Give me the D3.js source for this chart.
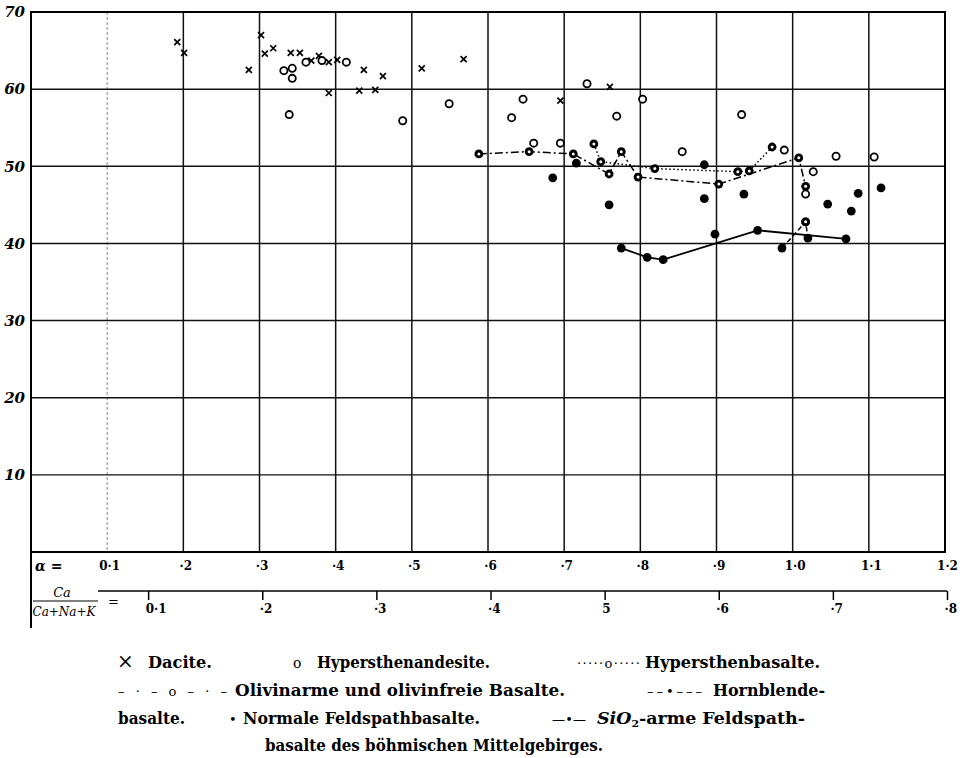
<!DOCTYPE html>
<html><head><meta charset="utf-8">
<script src="https://cdn.jsdelivr.net/npm/d3@7/dist/d3.min.js"></script>
<style>body{margin:0;background:#fff} svg{display:block}</style>
</head><body><svg id="c" width="964" height="758"></svg>
<script>
// ---- tick values and labels ----
const alphaTicks = [0.1,0.2,0.3,0.4,0.5,0.6,0.7,0.8,0.9,1.0,1.1,1.2];
const alphaLabels = ["0·1","·2","·3","·4","·5","·6","·7","·8","·9","1·0","1·1","1·2"];
const ratioTicks = [0.1,0.2,0.3,0.4,0.5,0.6,0.7,0.8];
const ratioLabels = ["0·1","·2","·3","·4","5","·6","·7","·8"];
const siTicks = [10,20,30,40,50,60,70];
const siLabels = ["10","20","30","40","50","60","70"];

// ---- series: [alpha, SiO2] ----
const dacite = [[0.192,66.1],[0.201,64.7],[0.286,62.5],[0.302,67.0],[0.307,64.6],[0.318,65.3],[0.341,64.7],[0.353,64.7],[0.368,63.7],[0.378,64.3],[0.391,63.5],[0.402,63.8],[0.391,59.5],[0.431,59.8],[0.437,62.5],[0.452,59.9],[0.462,61.7],[0.513,62.7],[0.568,63.9],[0.695,58.5],[0.760,60.3]];
const hyperAndesite = [[0.332,62.4],[0.343,62.7],[0.343,61.4],[0.339,56.7],[0.361,63.5],[0.382,63.7],[0.414,63.5],[0.488,55.9],[0.549,58.1],[0.631,56.3],[0.646,58.7],[0.660,53.0],[0.695,53.0],[0.730,60.7],[0.769,56.5],[0.803,58.7],[0.855,51.9],[0.933,56.7],[0.989,52.1],[1.027,49.3],[1.057,51.3],[1.107,51.2],[1.017,46.4]];
const hyperBasalt = [[0.739,52.9],[0.748,50.6],[0.819,49.7],[0.928,49.3],[0.943,49.4],[0.973,52.5]];
const olivinBasalt = [[0.588,51.6],[0.654,51.9],[0.712,51.6],[0.759,49.0],[0.775,51.9],[0.797,48.6],[0.903,47.7],[1.008,51.1],[1.017,47.4]];
const hornblendeBasalt = [[0.986,39.4],[1.017,42.8],[1.020,40.7]];
const feldspathBasalt = [[0.685,48.5],[0.716,50.4],[0.759,45.0],[0.884,50.2],[0.884,45.8],[0.898,41.2],[0.936,46.4],[1.046,45.1],[1.077,44.2],[1.086,46.5],[1.116,47.2]];
const sio2ArmBasalt = [[0.775,39.4],[0.809,38.2],[0.830,37.9],[0.954,41.7],[1.070,40.6]];

// ---- legend text: [symbol, label] per row ----
const legendRows = [
  [["×","Dacite."],["o","Hypersthenandesite."],["·····o·····","Hypersthenbasalte."]],
  [["– · – o – · –","Olivinarme und olivinfreie Basalte."],["– – • – – –","Hornblende-"]],
  [["","basalte."],["•","Normale Feldspathbasalte."],["—•—","SIO2"]],
  [["","basalte des böhmischen Mittelgebirges."]]
];

const svg = d3.select("#c");
const x = d3.scaleLinear().domain([0,1.2]).range([31,945]);
const xr = d3.scaleLinear().domain([0,0.8]).range([34,947]);
const y = d3.scaleLinear().domain([0,70]).range([552,12]);
const serif = "'DejaVu Serif','Liberation Serif',serif";

// grid
const g = svg.append("g");
g.selectAll("line.v").data(alphaTicks.filter(d=>d<1.15)).join("line")
  .attr("x1",d=>x(d)).attr("x2",d=>x(d)).attr("y1",y(70)).attr("y2",y(0))
  .attr("stroke",d=>d<0.15?"#888":"#111").attr("stroke-width",d=>d<0.15?1:1.5)
  .attr("stroke-dasharray",d=>d<0.15?"3,2":null);
g.selectAll("line.h").data(siTicks.filter(d=>d<70)).join("line")
  .attr("x1",x(0)).attr("x2",x(1.2)).attr("y1",d=>y(d)).attr("y2",d=>y(d))
  .attr("stroke","#111").attr("stroke-width",d=>d===10?1.1:1.5);
// frame
g.append("rect").attr("x",x(0)).attr("y",y(70)).attr("width",x(1.2)-x(0)).attr("height",y(0)-y(70))
  .attr("fill","none").attr("stroke","#000").attr("stroke-width",2);
g.append("line").attr("x1",x(0)).attr("x2",x(0)).attr("y1",y(0)).attr("y2",628).attr("stroke","#000").attr("stroke-width",2);

// y axis labels
const yAx = svg.append("g").attr("transform",`translate(${x(0)},0)`)
  .call(d3.axisLeft(y).tickValues(siTicks).tickSize(0).tickPadding(6).tickFormat((d,i)=>siLabels[i]));
yAx.select(".domain").remove();
yAx.selectAll("text").attr("font-family",serif).attr("font-style","italic").attr("font-weight","bold").attr("font-size",15).attr("fill","#000");

// alpha axis labels
const aAx = svg.append("g").attr("transform",`translate(0,${y(0)})`)
  .call(d3.axisBottom(x).tickValues(alphaTicks).tickSize(0).tickPadding(9).tickFormat((d,i)=>alphaLabels[i]));
aAx.select(".domain").remove();
aAx.selectAll("text").attr("font-family",serif).attr("font-weight","bold").attr("font-size",12).attr("dx",2).attr("fill","#000");
svg.append("text").attr("x",35).attr("y",571).attr("font-family",serif).attr("font-style","italic").attr("font-weight","bold").attr("font-size",14).text("α =");

// ratio axis
svg.append("line").attr("x1",98).attr("x2",xr(0.8)).attr("y1",591).attr("y2",591).attr("stroke","#000").attr("stroke-width",1.6);
const rAx = svg.append("g").attr("transform","translate(0,591)")
  .call(d3.axisBottom(xr).tickValues(ratioTicks).tickSize(9).tickPadding(4).tickFormat((d,i)=>ratioLabels[i]));
rAx.select(".domain").remove();
rAx.selectAll("line").attr("stroke","#000").attr("stroke-width",1.5);
rAx.selectAll("text").attr("font-family",serif).attr("font-weight","bold").attr("font-size",12).attr("text-anchor","start").attr("dx",-3).attr("fill","#000");
// fraction
svg.append("text").attr("x",62).attr("y",597).attr("text-anchor","middle").attr("font-family",serif).attr("font-style","italic").attr("font-size",13).text("Ca");
svg.append("line").attr("x1",33).attr("x2",98).attr("y1",601).attr("y2",601).attr("stroke","#000").attr("stroke-width",1.2);
svg.append("text").attr("x",64).attr("y",616).attr("text-anchor","middle").attr("font-family",serif).attr("font-style","italic").attr("font-size",12).text("Ca+Na+K");
svg.append("text").attr("x",108).attr("y",606).attr("font-family",serif).attr("font-size",13).text("=");

// lines
const line = d3.line().x(d=>x(d[0])).y(d=>y(d[1]));
const lg = svg.append("g").attr("fill","none").attr("stroke","#000").attr("stroke-width",1.5);
lg.append("path").attr("d",line(olivinBasalt)).attr("stroke-dasharray","8,3,2,3");
lg.append("path").attr("d",line(hyperBasalt)).attr("stroke-dasharray","1.5,2.5");
lg.append("path").attr("d",line(hornblendeBasalt)).attr("stroke-dasharray","5,3");
lg.append("path").attr("d",line(sio2ArmBasalt)).attr("stroke-width",1.8);

// markers
const mk = svg.append("g");
mk.selectAll("path.x").data(dacite).join("path")
  .attr("d",d=>{const cx=x(d[0]),cy=y(d[1]),s=3;return `M${cx-s},${cy-s}L${cx+s},${cy+s}M${cx-s},${cy+s}L${cx+s},${cy-s}`;})
  .attr("stroke","#000").attr("stroke-width",1.7);
mk.selectAll("circle.a").data(hyperAndesite).join("circle")
  .attr("cx",d=>x(d[0])).attr("cy",d=>y(d[1])).attr("r",3.6).attr("fill","#fff").attr("stroke","#000").attr("stroke-width",1.8);
mk.selectAll("circle.f").data(feldspathBasalt.concat(sio2ArmBasalt, hornblendeBasalt)).join("circle")
  .attr("cx",d=>x(d[0])).attr("cy",d=>y(d[1])).attr("r",4.4).attr("fill","#000");
const rings = olivinBasalt.concat(hyperBasalt, [hornblendeBasalt[1]]);
mk.selectAll("circle.r").data(rings).join("circle")
  .attr("cx",d=>x(d[0])).attr("cy",d=>y(d[1])).attr("r",4.4).attr("fill","#000");
mk.selectAll("circle.ri").data(rings).join("circle")
  .attr("cx",d=>x(d[0])).attr("cy",d=>y(d[1])).attr("r",1.5).attr("fill","#fff");

// legend
const leg = svg.append("g").attr("font-family",serif).attr("font-weight","bold").attr("font-size",16).attr("fill","#000");
const rowY = [668,696,724,751];
// [symbol x, symbol width, label x, label width] per item
const legendPos = [
  [[117,null,148,64],[293,null,317,173],[577,63,645,175]],
  [[118,109,235,330],[647,55,713,112]],
  [[0,0,118,67],[229,null,243,237],[552,34,597,208]],
  [[0,0,265,338]]
];
legendRows.forEach((row,ri)=>{
  row.forEach(([sym,lab],ii)=>{
    const [sx,sw,lx,lw] = legendPos[ri][ii];
    if (sym) {
      const s = leg.append("text").attr("x",sx).attr("y",rowY[ri]).attr("font-weight","normal")
        .attr("font-size", sym==="×"?20:(sym==="o"?14:13)).text(sym);
      if (sw) s.attr("textLength",sw).attr("lengthAdjust","spacing");
    }
    const t = leg.append("text").attr("x",lx).attr("y",rowY[ri]);
    if (lab==="SIO2") {
      t.append("tspan").attr("font-style","italic").text("SiO");
      t.append("tspan").attr("font-size",10).attr("dy",3).text("2");
      t.append("tspan").attr("dy",-3).text("-arme Feldspath-");
    } else t.text(lab);
    t.attr("textLength",lw).attr("lengthAdjust","spacingAndGlyphs");
  });
});
</script></body></html>
